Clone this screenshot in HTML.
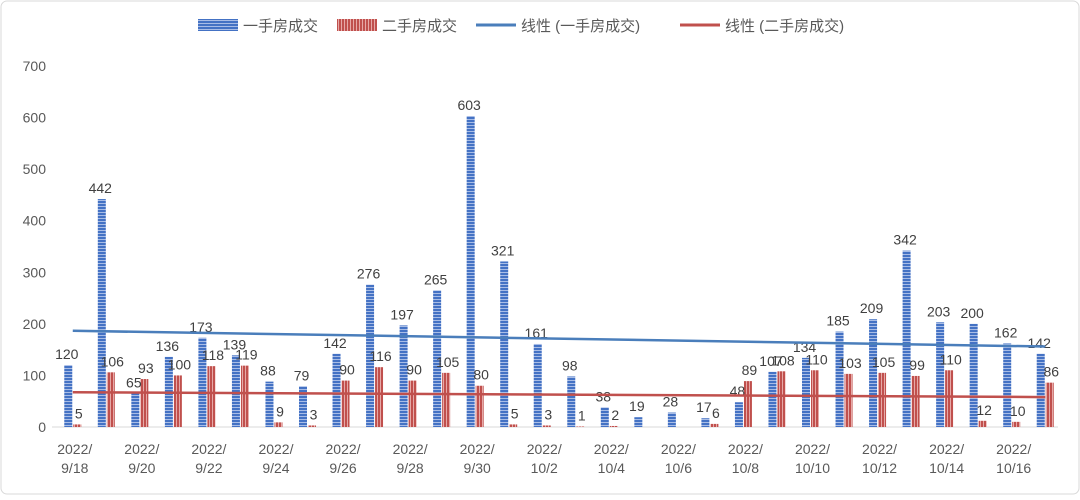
<!DOCTYPE html>
<html><head><meta charset="utf-8"><style>
body{margin:0;background:#fff;font-family:"Liberation Sans","Noto Sans CJK SC",sans-serif}
svg text{font-family:"Liberation Sans","Noto Sans CJK SC",sans-serif}
</style></head><body>
<svg id="c" width="1080" height="495" xmlns="http://www.w3.org/2000/svg">
<defs>
<pattern id="pb" width="4" height="3" patternUnits="userSpaceOnUse"><rect width="4" height="3" fill="#4472c4"/><rect y="2" width="4" height="1" fill="#a9bde6"/></pattern>
<pattern id="pr" width="3" height="4" patternUnits="userSpaceOnUse"><rect width="3" height="4" fill="#c0504d"/><rect x="2" width="1" height="4" fill="#e6a9a7"/></pattern>
</defs>
<rect x="1" y="1" width="1078" height="493" rx="6" fill="#fff" stroke="#d9d9d9"/>
<g>
<rect x="198" y="19" width="40" height="12" fill="url(#pb)"/>
<text x="243" y="31" font-size="15" fill="#595959">一手房成交</text>
<rect x="337" y="19" width="40" height="12" fill="url(#pr)"/>
<text x="382" y="31" font-size="15" fill="#595959">二手房成交</text>
<line x1="476" y1="25" x2="516" y2="25" stroke="#4a7ebb" stroke-width="3"/>
<text x="521" y="31" font-size="15" fill="#595959">线性 (一手房成交)</text>
<line x1="680" y1="25" x2="720" y2="25" stroke="#c0504d" stroke-width="3"/>
<text x="725" y="31" font-size="15" fill="#595959">线性 (二手房成交)</text>
</g>
<g id="plot"></g>
</svg>
<script>
const categories=["9/18","9/19","9/20","9/21","9/22","9/23","9/24","9/25","9/26","9/27","9/28","9/29","9/30","10/1","10/2","10/3","10/4","10/5","10/6","10/7","10/8","10/9","10/10","10/11","10/12","10/13","10/14","10/15","10/16","10/17"];
const newHomes=[120,442,65,136,173,139,88,79,142,276,197,265,603,321,161,98,38,19,28,17,48,107,134,185,209,342,203,200,162,142];
const secondHomes=[5,106,93,100,118,119,9,3,90,116,90,105,80,5,3,1,2,0,0,6,89,108,110,103,105,99,110,12,10,86];
const yTicks=[0,100,200,300,400,500,600,700];
const X0=52,X1=1058,Y0=427,Y1=66,YMAX=700,SH=4;
const slot=(X1-X0)/categories.length;
const x=i=>X0+i*slot;
const y=v=>Y0-(v/YMAX)*(Y0-Y1);
const g=document.getElementById('plot');
const NS="http://www.w3.org/2000/svg";
function mk(t,a){const e=document.createElementNS(NS,t);for(const k in a)e.setAttribute(k,a[k]);g.appendChild(e);return e;}
yTicks.forEach(t=>{const e=mk('text',{x:46,y:y(t)+5,'text-anchor':'end','font-size':14,fill:'#595959'});e.textContent=t;

});
const ax=mk('line',{x1:X0,x2:X1,y1:Y0,y2:Y0,stroke:'#d9d9d9'});


categories.forEach((c,i)=>{
 const bw=8,cx=x(i)+slot/2+SH;
 const b=mk('rect',{x:cx-bw-0.5,y:y(newHomes[i]),width:bw,height:Y0-y(newHomes[i]),fill:'url(#pb)'});
 
 
 const r=mk('rect',{x:cx+0.5,y:y(secondHomes[i]),width:bw,height:Y0-y(secondHomes[i]),fill:'url(#pr)'});
 
 
 const lb=mk('text',{x:cx-bw/2-2,y:y(newHomes[i])-6,'text-anchor':'middle','font-size':14,fill:'#404040'});lb.textContent=newHomes[i];
 
 
 if(secondHomes[i]>0){const lr=mk('text',{x:cx+bw/2+2,y:y(secondHomes[i])-6,'text-anchor':'middle','font-size':14,fill:'#404040'});lr.textContent=secondHomes[i];
 
 }
 if(i%2===0){
  const t1=mk('text',{x:cx+2,y:454,'text-anchor':'middle','font-size':14,fill:'#595959'});t1.textContent='2022/';
  
  
  const t2=mk('text',{x:cx+2,y:473,'text-anchor':'middle','font-size':14,fill:'#595959'});t2.textContent=c;
  
  
 }
});
function trend(arr,color,name){
 const n=arr.length;let sx=0,sy=0,sxy=0,sxx=0;
 arr.forEach((v,i)=>{sx+=i;sy+=v;sxy+=i*v;sxx+=i*i;});
 const m=(n*sxy-sx*sy)/(n*sxx-sx*sx),b=(sy-m*sx)/n;
 const l=mk('line',{x1:x(0)+slot/2+SH,y1:y(b),x2:x(n-1)+slot/2+SH,y2:y(b+m*(n-1)),stroke:color,'stroke-width':2.5});
 
 
}
trend(newHomes,'#4a7ebb','trend-line-new');
trend(secondHomes,'#c0504d','trend-line-second');
</script>
</body></html>
